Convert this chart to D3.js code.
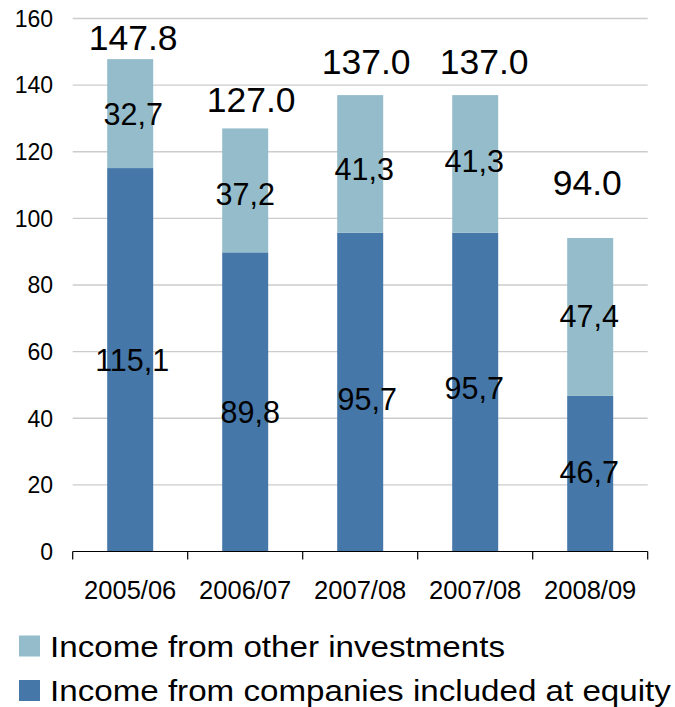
<!DOCTYPE html>
<html><head><meta charset="utf-8">
<script src="https://cdn.jsdelivr.net/npm/d3@7"></script>
<style>
html,body{margin:0;padding:0;background:#fff;}
svg{display:block;font-family:"Liberation Sans",Arial,sans-serif;}
</style></head>
<body>
<svg id="chart" width="675" height="707"></svg>
<script>
// ---- data ----
const categories = ["2005/06", "2006/07", "2007/08", "2007/08", "2008/09"];
const equityIncome = [115.1, 89.8, 95.7, 95.7, 46.7];      // Income from companies included at equity
const otherIncome = [32.7, 37.2, 41.3, 41.3, 47.4];        // Income from other investments
const totalLabels = ["147.8", "127.0", "137.0", "137.0", "94.0"];
const equityLabels = ["115,1", "89,8", "95,7", "95,7", "46,7"];
const otherLabels = ["32,7", "37,2", "41,3", "41,3", "47,4"];
const yTicks = [0, 20, 40, 60, 80, 100, 120, 140, 160];
const legendLabels = ["Income from other investments", "Income from companies included at equity"];

// ---- layout (label placements, in value units / px offsets) ----
const totalLabelAt = [150.6, 131.8, 143.4, 143.4, 107.1];
const totalLabelDx = [3, 6, 6, 9, -3];
const otherLabelAt = [128.1, 104.1, 111.6, 114.0, 67.4];
const otherLabelDx = [3, 0, 4, -1, -1];
const equityLabelAt = [54.3, 38.6, 42.5, 45.8, 20.7];
const equityLabelDx = [2, 5, 7, -1, -1];

const colOther = "#94bccb";
const colEquity = "#4577a8";

(function () {
const svg = d3.select("#chart");
const mLeft = 72.7, mRight = 647.7, mTop = 18.5, mBottom = 551.5;

const idx = categories.map((c, i) => i);
const x = d3.scaleBand().domain(idx).range([mLeft, mRight]).padding(0);
const y = d3.scaleLinear().domain([0, 160]).range([mBottom, mTop]);
const barW = x.bandwidth() * 0.4;
const cx = i => x(i) + x.bandwidth() / 2;

// gridlines
svg.append("g").selectAll("line").data(yTicks.filter(t => t > 0)).join("line")
  .attr("x1", mLeft).attr("x2", mRight)
  .attr("y1", d => y(d)).attr("y2", d => y(d))
  .attr("stroke", "#cccccc").attr("stroke-width", 1.3);

// y labels
svg.append("g").selectAll("text").data(yTicks).join("text")
  .attr("x", 53).attr("y", d => y(d)).attr("dy", "0.36em")
  .attr("text-anchor", "end").attr("font-size", 23).attr("fill", "#000")
  .text(d => d);

// bars
const bars = svg.append("g");
bars.selectAll("rect.eq").data(idx).join("rect").attr("class", "eq")
  .attr("x", i => cx(i) - barW / 2).attr("width", barW)
  .attr("y", i => y(equityIncome[i])).attr("height", i => y(0) - y(equityIncome[i]))
  .attr("fill", colEquity);
bars.selectAll("rect.ot").data(idx).join("rect").attr("class", "ot")
  .attr("x", i => cx(i) - barW / 2).attr("width", barW)
  .attr("y", i => y(equityIncome[i] + otherIncome[i]))
  .attr("height", i => y(equityIncome[i]) - y(equityIncome[i] + otherIncome[i]))
  .attr("fill", colOther);

// x axis line and ticks
svg.append("line").attr("x1", mLeft).attr("x2", mRight).attr("y1", mBottom).attr("y2", mBottom)
  .attr("stroke", "#000").attr("stroke-width", 1.2);
const bounds = idx.map(i => x(i)).concat([x(idx[idx.length - 1]) + x.bandwidth()]);
svg.append("g").selectAll("line").data(bounds).join("line")
  .attr("x1", d => d).attr("x2", d => d).attr("y1", mBottom).attr("y2", mBottom + 8)
  .attr("stroke", "#000").attr("stroke-width", 1.2);

// category labels
svg.append("g").selectAll("text").data(idx).join("text")
  .attr("x", i => cx(i)).attr("y", 599).attr("text-anchor", "middle")
  .attr("font-size", 25.5).attr("fill", "#000").text(i => categories[i]);

// value labels
const lab = svg.append("g").attr("fill", "#000").attr("text-anchor", "middle");
lab.selectAll("text.tot").data(idx).join("text").attr("class", "tot")
  .attr("x", i => cx(i) + totalLabelDx[i]).attr("y", i => y(totalLabelAt[i]))
  .attr("font-size", 35.5).text(i => totalLabels[i]);
lab.selectAll("text.ot").data(idx).join("text").attr("class", "ot")
  .attr("x", i => cx(i) + otherLabelDx[i]).attr("y", i => y(otherLabelAt[i]))
  .attr("font-size", 30.5).text(i => otherLabels[i]);
lab.selectAll("text.eq").data(idx).join("text").attr("class", "eq")
  .attr("x", i => cx(i) + equityLabelDx[i]).attr("y", i => y(equityLabelAt[i]))
  .attr("font-size", 30.5).text(i => equityLabels[i]);

// legend
const legCols = [colOther, colEquity];
const lg = svg.append("g");
const rowY = [656.5, 701];
lg.selectAll("rect").data([0, 1]).join("rect")
  .attr("x", 19).attr("y", i => rowY[i] - 21).attr("width", 21).attr("height", 21)
  .attr("fill", i => legCols[i]);
lg.selectAll("text").data([0, 1]).join("text")
  .attr("transform", i => `translate(50,${rowY[i]}) scale(1.105,1)`)
  .attr("font-size", 30).attr("fill", "#000")
  .text(i => legendLabels[i]);
})();
</script>
</body></html>
